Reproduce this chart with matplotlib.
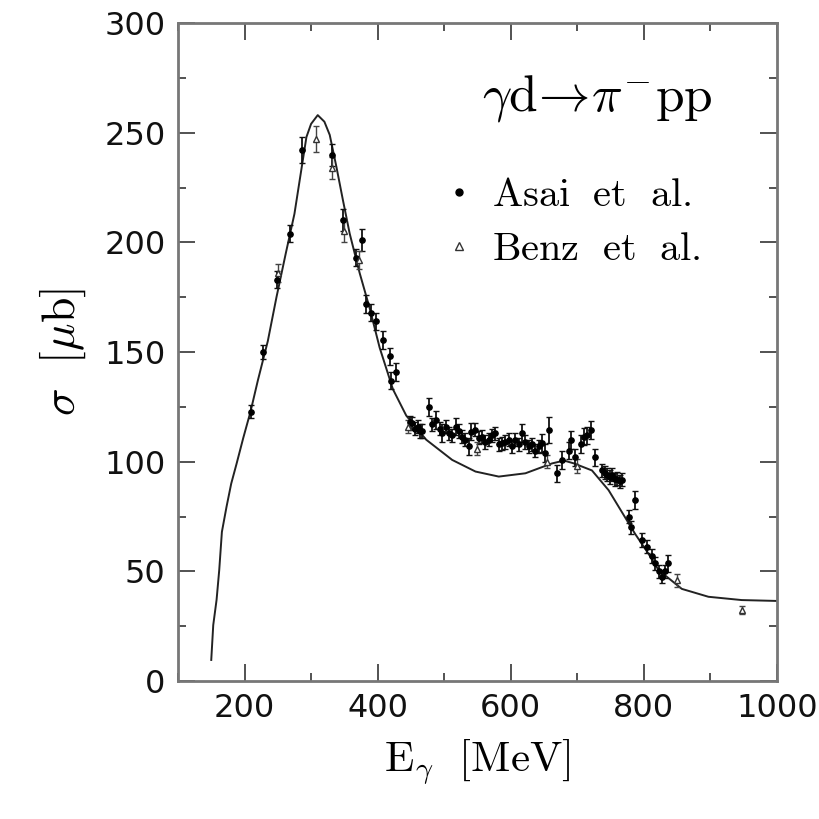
import matplotlib
matplotlib.use('Agg')

import matplotlib.pyplot as plt
import numpy as np
from matplotlib.ticker import MultipleLocator
from matplotlib.lines import Line2D

plt.rcParams['mathtext.fontset'] = 'cm'

# theory curve
curve_e = [150, 153, 158, 162, 166, 173, 180, 188, 198, 209, 220, 235, 248, 262, 275,
           293, 300, 310, 320, 328, 338, 348, 358, 373, 388, 403, 423, 443, 473, 512,
           547, 582, 622, 662, 680, 695, 722, 747, 765, 787, 807, 822, 857, 897, 947, 1000]
curve_s = [9.6, 25.5, 37, 50.6, 68, 79.5, 90, 99, 110.7, 122.8, 137, 155, 175, 195, 213,
           248, 254, 258, 255, 249, 234.5, 219, 204, 186, 170, 152, 133, 121, 110, 100.8,
           95.5, 93.2, 94.7, 99.2, 100.5, 99.2, 96, 87, 78, 67, 58, 50.6, 42, 38.4, 36.9, 36.5]

# Asai et al.
asai_e = [209, 228, 249, 268, 287, 331, 348, 368, 377, 383, 390, 397, 408, 418, 420, 428,
          448, 452, 456, 460, 464, 467, 477, 482, 488, 493, 497, 502, 507, 512, 517, 522,
          527, 532, 537, 540, 547, 552, 557, 562, 567, 572, 577, 582, 587, 592, 597, 602,
          607, 612, 617, 622, 627, 632, 637, 642, 647, 652, 657, 670, 677, 687, 690, 697,
          705, 710, 715, 720, 727, 737, 741, 745, 749, 752, 756, 760, 764, 767, 777, 780,
          787, 797, 804, 812, 817, 822, 827, 832, 837]
asai_s = [122.8, 150, 183, 204, 242, 240, 210, 193, 201, 172, 168, 164, 155.5, 148, 137, 141,
          118, 117.5, 115, 116, 114, 114, 125, 117, 119, 115, 113, 116, 113, 112, 116, 114,
          111.4, 110, 107, 113.7, 114.5, 111, 111.4, 109, 110, 112, 113, 108, 108.4, 109, 110, 107,
          110, 108, 113, 109, 107, 108, 105, 107, 108.4, 104, 114.5, 94.7, 100.8, 105, 110, 102,
          108, 111.4, 112, 114.5, 102, 96, 95, 94, 93, 94, 92, 92.3, 91, 91.7, 75, 70,
          82.5, 64.3, 61.2, 57, 53.6, 50, 47.6, 50, 53.6]
asai_err = [3, 3, 4, 4, 6, 5, 5, 4, 5, 4, 4, 4, 4, 4, 4, 4,
            3, 3, 3, 3, 3, 3, 4, 3, 4, 3, 4, 3, 3, 3, 4, 3,
            3, 3, 4, 4, 3, 3, 3, 3, 3, 3, 3, 3, 3, 3, 3, 3,
            3, 3, 4, 3, 3, 3, 3, 3, 4, 4, 6, 4, 4, 4, 4, 4,
            4, 4, 4, 4, 4, 3, 3, 3, 3, 3, 3, 3, 3, 3, 3, 3,
            4, 3, 3, 3, 3, 3, 3, 3, 4]

# Benz et al.
benz_e = [250, 308, 331, 350, 372, 445, 550, 655, 700, 850, 947]
benz_s = [186, 247, 234, 205, 192, 116, 106, 100, 98, 46, 32.4]
benz_err = [4, 6, 5, 5, 4, 3, 3, 3, 3, 3, 2]

fig = plt.figure(figsize=(8.19, 8.19), dpi=100)
ax = fig.add_axes([0.2173, 0.1685, 0.7314, 0.8034])

ax.plot(curve_e, curve_s, color='#222222', lw=1.4, zorder=2)

ax.errorbar(asai_e, asai_s, yerr=asai_err, fmt='o', ms=3.8, color='black',
            ecolor='#111111', elinewidth=1.3, capsize=2, zorder=3)
ax.errorbar(benz_e, benz_s, yerr=benz_err, fmt='^', ms=4.5, mfc='white', mec='#333333',
            ecolor='#444444', elinewidth=1.0, capsize=2, zorder=3)

ax.set_xlim(100, 1000)
ax.set_ylim(0, 300)
ax.xaxis.set_major_locator(MultipleLocator(200))
ax.xaxis.set_minor_locator(MultipleLocator(100))
ax.yaxis.set_major_locator(MultipleLocator(50))
ax.yaxis.set_minor_locator(MultipleLocator(25))

for s in ax.spines.values():
    s.set_color('#777777')
    s.set_linewidth(2.0)

ax.tick_params(which='both', direction='in', top=True, right=True, color='#444444',
               width=1.3, labelsize=23, pad=9)
ax.tick_params(which='major', length=12)
ax.tick_params(which='minor', length=6)
for lbl in ax.get_xticklabels() + ax.get_yticklabels():
    lbl.set_family('DejaVu Sans')
    lbl.set_color('#111111')

ax.set_xlabel(r'$\mathrm{E}_{\gamma}\ \ [\mathrm{MeV}]$', fontsize=31, labelpad=10)
ax.set_ylabel(r'$\sigma\ \ [\mu\mathrm{b}]$', fontsize=33, labelpad=12)

ax.text(0.70, 0.885, r'$\gamma\mathrm{d}\!\rightarrow\!\pi^{-}\mathrm{pp}$',
        transform=ax.transAxes, fontsize=37, ha='center', va='center')

handles = [Line2D([], [], ls='none', marker='o', ms=5, color='black'),
           Line2D([], [], ls='none', marker='^', ms=5.5, mfc='white', mec='#333333')]
labels = [r'$\mathrm{Asai\ \ et\ \ al.}$', r'$\mathrm{Benz\ \ et\ \ al.}$']
ax.legend(handles, labels, loc='upper right', bbox_to_anchor=(0.905, 0.80), frameon=False,
          fontsize=29, handletextpad=0.4, handlelength=0.8, labelspacing=0.35, borderpad=0)

fig.savefig('out.png', dpi=100)
